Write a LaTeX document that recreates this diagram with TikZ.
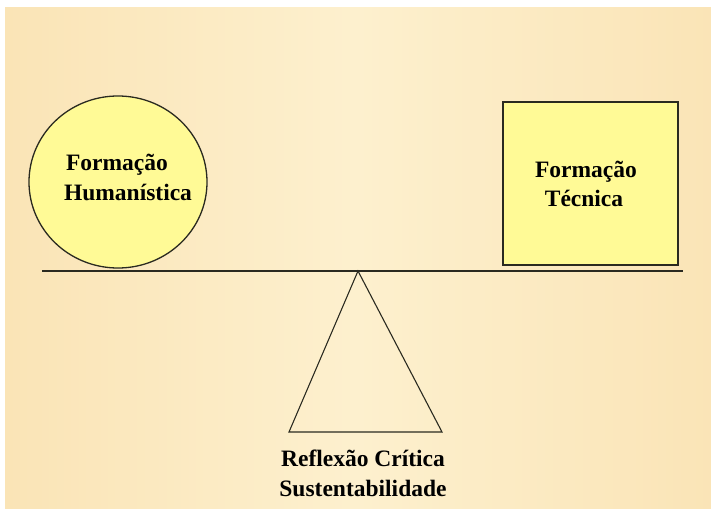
\documentclass[tikz,border=0pt]{standalone}
\usepackage{fontspec}
\setmainfont{Liberation Serif}
\usetikzlibrary{shapes.geometric}
\definecolor{bgmid}{HTML}{FDF0CE}
\definecolor{bgedge}{HTML}{FAE4B6}
\definecolor{shapefill}{HTML}{FFFA96}
\definecolor{linec}{HTML}{2A2A20}
\tikzset{
  lbl/.style={font=\bfseries\fontsize{23.5}{26}\selectfont, text=black, inner sep=0pt},
  shapeline/.style={draw=linec, line width=1.3pt, fill=shapefill},
  thinline/.style={draw=linec, line width=1.2pt}
}
\begin{document}
\begin{tikzpicture}[x=1pt,y=-1pt]
\useasboundingbox (0,0) rectangle (711,508);
\shade[left color=bgedge, right color=bgmid] (5,7) rectangle (356.5,515);
\shade[left color=bgmid, right color=bgedge] (356,7) rectangle (718,515);
\fill[white] (-2,-2) rectangle (718,7);
\fill[white] (-2,-2) rectangle (5,515);
% beam
\coordinate (bl) at (42,271);
\coordinate (br) at (683,271);
\draw[thinline] (bl) -- (br);
% circle
\node[shapeline, ellipse, minimum width=178, minimum height=172, inner sep=0pt] (hum) at (118,182) {};
\node[lbl] (hum1) at (117,165) {Formação};
\node[lbl] (hum2) at (128,192) {Humanística};
% square
\node[shapeline, rectangle, minimum width=175, minimum height=163, inner sep=0pt] (tec) at (590.5,183.5) {};
\node[lbl] (tec1) at (586,172) {Formação};
\node[lbl] (tec2) at (584,198) {Técnica};
% fulcrum
\coordinate (apex) at (358,271);
\coordinate (bL) at (289,432);
\coordinate (bR) at (442,432);
\draw[draw=linec, line width=1.1pt, line join=miter] (apex) -- (bL) -- (bR) -- cycle;
\node[lbl] (ref) at (363,458) {Reflexão Crítica};
\node[lbl] (sus) at (363,488) {Sustentabilidade};
\end{tikzpicture}
\end{document}
